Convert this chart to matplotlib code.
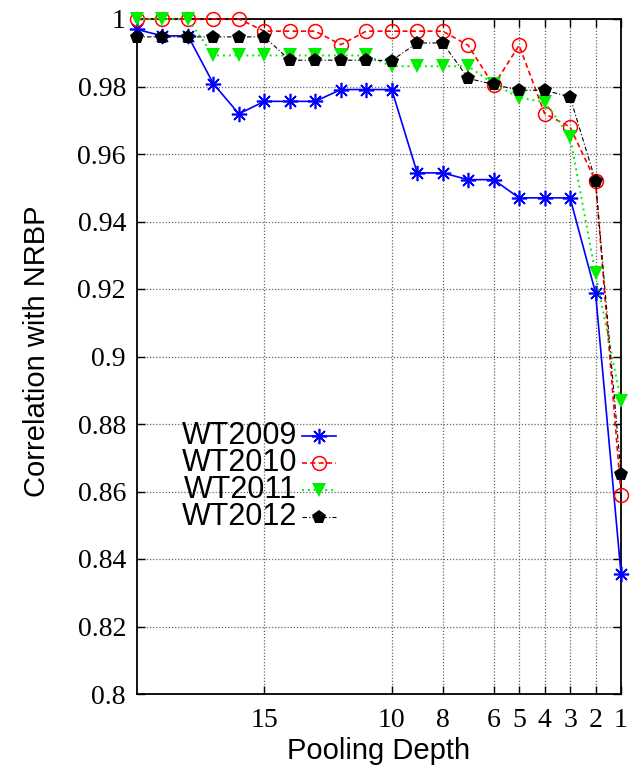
import matplotlib
matplotlib.use("Agg")
import matplotlib.pyplot as plt
from matplotlib.lines import Line2D

# Pooling depths (20 down to 1) and correlation values per collection
depth = [20, 19, 18, 17, 16, 15, 14, 13, 12, 11, 10, 9, 8, 7, 6, 5, 4, 3, 2, 1]

wt2009 = [0.9969, 0.9950, 0.9950, 0.9808, 0.9719, 0.9756, 0.9756, 0.9756, 0.9791, 0.9791,
          0.9791, 0.9544, 0.9544, 0.9524, 0.9524, 0.9470, 0.9470, 0.9470, 0.9189, 0.8357]
wt2010 = [1.0000, 1.0000, 1.0000, 1.0000, 1.0000, 0.9964, 0.9964, 0.9964, 0.9924, 0.9964,
          0.9964, 0.9964, 0.9964, 0.9922, 0.9803, 0.9922, 0.9720, 0.9680, 0.9520, 0.8591]
wt2011 = [1.0000, 1.0000, 1.0000, 0.9892, 0.9892, 0.9892, 0.9892, 0.9892, 0.9892, 0.9892,
          0.9860, 0.9860, 0.9860, 0.9860, 0.9808, 0.9767, 0.9754, 0.9651, 0.9246, 0.8868]
wt2012 = [0.9947, 0.9947, 0.9947, 0.9947, 0.9947, 0.9947, 0.9878, 0.9878, 0.9878, 0.9878,
          0.9877, 0.9929, 0.9929, 0.9824, 0.9806, 0.9789, 0.9789, 0.9769, 0.9520, 0.8652]

series_names = ["WT2009", "WT2010", "WT2011", "WT2012"]

x_ticks = [15, 10, 8, 6, 5, 4, 3, 2, 1]
y_ticks = [0.8, 0.82, 0.84, 0.86, 0.88, 0.9, 0.92, 0.94, 0.96, 0.98, 1.0]
y_tick_labels = ["0.8", "0.82", "0.84", "0.86", "0.88", "0.9", "0.92", "0.94", "0.96", "0.98", "1"]

styles = [
    dict(color="#0000ff", linestyle="-", linewidth=1.2, marker=(8, 2, 0), markersize=11,
         markeredgewidth=1.2, markerfacecolor="#0000ff"),
    dict(color="#ff0000", linestyle=(0, (3, 2)), linewidth=1.2, marker="o", markersize=10,
         markerfacecolor="none", markeredgewidth=1.1),
    dict(color="#00ee00", linestyle=(0, (1, 2)), linewidth=1.4, marker="v", markersize=10,
         markerfacecolor="#00ee00", markeredgewidth=0),
    dict(color="#000000", linestyle=(0, (4, 2, 1, 2)), linewidth=0.8, marker="p", markersize=10,
         markerfacecolor="#000000", markeredgewidth=0),
]

fig = plt.figure(figsize=(6.31, 7.67), dpi=100)
ax = fig.add_axes([137 / 631, 1 - 694 / 767, (621 - 137) / 631, (694 - 19) / 767])

for vals, st in zip([wt2009, wt2010, wt2011, wt2012], styles):
    ax.plot(depth, vals, clip_on=False, zorder=3, **st)

ax.set_xlim(20, 1)
ax.set_ylim(0.8, 1.0)
ax.set_xticks(x_ticks)
ax.set_xticklabels([str(t) for t in x_ticks])
ax.set_yticks(y_ticks)
ax.set_yticklabels(y_tick_labels)

serif = ["Liberation Serif", "DejaVu Serif"]
sans = ["Liberation Sans", "DejaVu Sans"]
for lab in ax.get_xticklabels() + ax.get_yticklabels():
    lab.set_fontfamily(serif)
    lab.set_fontsize(20)

ax.tick_params(direction="in", length=6, width=1, top=True, right=True, pad=8)
ax.tick_params(axis="x", pad=10)
ax.grid(True, linestyle=(0, (1, 1.5)), color="#666666", linewidth=0.9)
for sp in ax.spines.values():
    sp.set_linewidth(1.3)

ax.set_xlabel("Pooling Depth", fontfamily=sans, fontsize=21)
ax.xaxis.label.set_verticalalignment("center")
ax.xaxis.set_label_coords(0.5, -(751 - 694) / 675)
ax.set_ylabel("Correlation with NRBP", fontfamily=sans, fontsize=21)
ax.yaxis.label.set_verticalalignment("center")
ax.yaxis.set_label_coords((37 - 137) / 484, (694 - 351) / 675)

# Key: label on the left, line sample on the right
fig_w, fig_h = 631, 767
key_text_x = 297
key_line = (302, 336)
key_rows = [436, 463, 490, 517]
for name, st, yr in zip(series_names, styles, key_rows):
    yf = 1 - yr / fig_h
    fig.text(key_text_x / fig_w, yf, name, ha="right", va="center",
             fontfamily=sans, fontsize=22)
    ln = Line2D([key_line[0] / fig_w, key_line[1] / fig_w], [yf, yf], transform=fig.transFigure,
                **{k: v for k, v in st.items() if k != "marker"})
    fig.add_artist(ln)
    mk = Line2D([(key_line[0] + key_line[1]) / 2 / fig_w], [yf], transform=fig.transFigure,
                linestyle="none", **{k: v for k, v in st.items() if k not in ("linestyle", "linewidth")})
    fig.add_artist(mk)

fig.savefig("out.png", dpi=100)
